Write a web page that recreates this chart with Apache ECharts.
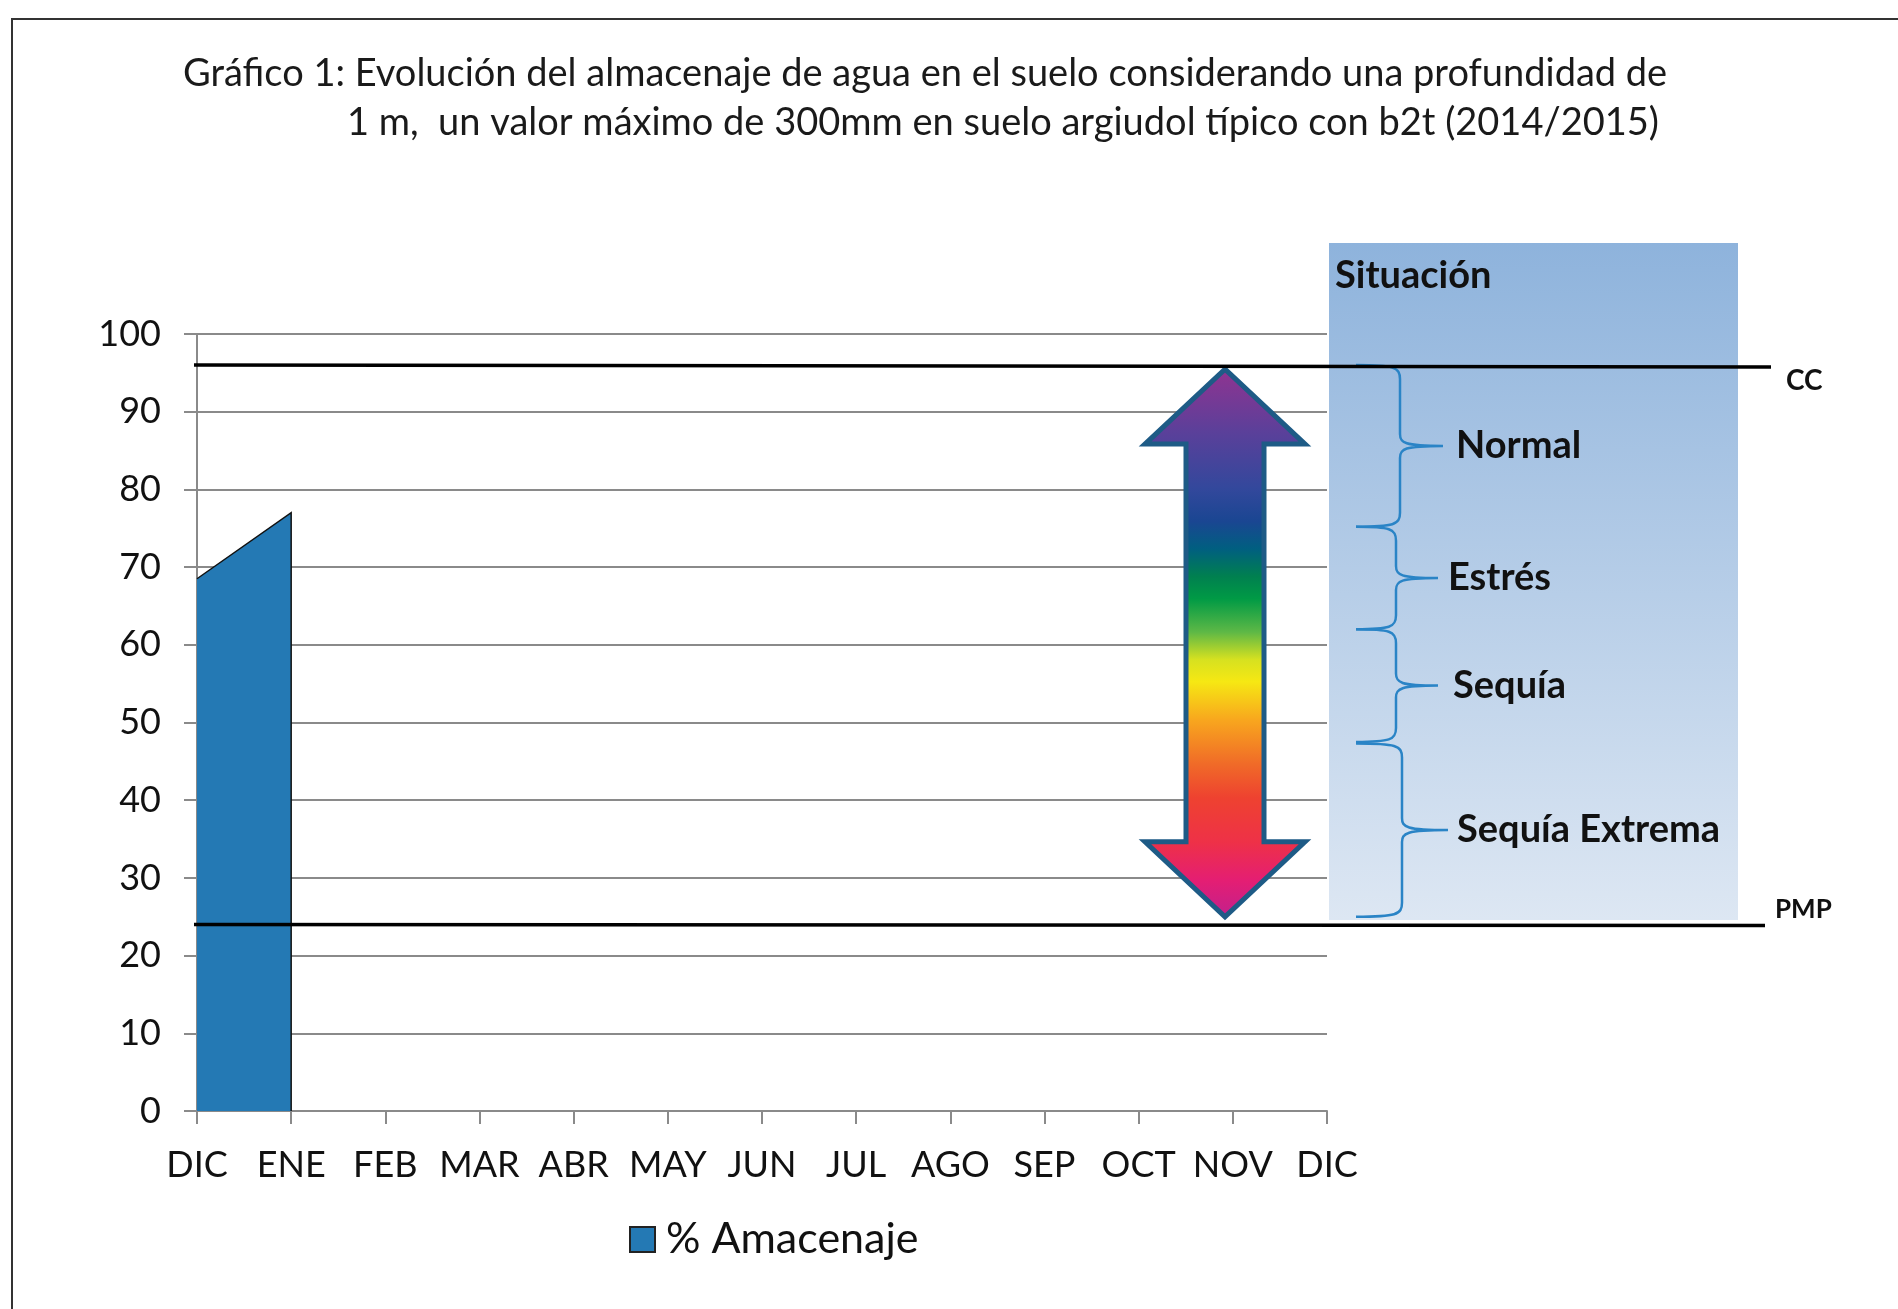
<!DOCTYPE html>
<html>
<head>
<meta charset="utf-8">
<script src="https://cdn.jsdelivr.net/npm/echarts@6/dist/echarts.min.js"></script>
<style>
  html, body { margin: 0; padding: 0; background: #fff; }
  #chart { width: 1898px; height: 1309px; }
</style>
</head>
<body>
<div id="chart"></div>
<script>
// datos
const meses = ['DIC', 'ENE', 'FEB', 'MAR', 'ABR', 'MAY', 'JUN', 'JUL', 'AGO', 'SEP', 'OCT', 'NOV', 'DIC'];
const amacenaje = [68.5, 77];
const nivelCC = 96;
const nivelPMP = 24;
const situaciones = ['Normal', 'Estrés', 'Sequía', 'Sequía Extrema'];
// limites de cada llave (de arriba hacia abajo)
const corteSup = [96, 75.2, 62, 47.3];
const corteInf = [75.2, 62, 47.5, 25];

const font = 'Lato, "Open Sans", sans-serif';
const gris = '#8a8a8a';
const azul = '#2479b4';

// x de la llave: lomo, punta, etiqueta
const llaveX = [[1400, 1443, 1456], [1396, 1438, 1448], [1396, 1438, 1453], [1402, 1448, 1457]];

const chart = echarts.init(document.getElementById('chart'));

function renderArea(params, api) {
  const i = api.value(0);
  if (i >= amacenaje.length - 1) return null;
  const p0 = api.coord([i, amacenaje[i]]);
  const p1 = api.coord([i + 1, amacenaje[i + 1]]);
  const b0 = api.coord([i, 0]);
  const b1 = api.coord([i + 1, 0]);
  const last = i + 1 === amacenaje.length - 1;
  return {
    type: 'group',
    children: [
      { type: 'polygon', shape: { points: [p0, p1, b1, b0] }, style: { fill: azul } },
      { type: 'polyline', shape: { points: last ? [p0, p1, b1] : [p0, p1] },
        style: { fill: null, stroke: '#111', lineWidth: 1.5 } }
    ]
  };
}

function llave(yTop, yBot, s, xl, xt) {
  const ym = (yTop + yBot) / 2;
  return 'M' + xl + ' ' + yTop +
    ' C' + (s - 6) + ' ' + yTop + ' ' + s + ' ' + (yTop + 2) + ' ' + s + ' ' + (yTop + 14) +
    ' L' + s + ' ' + (ym - 12) +
    ' C' + s + ' ' + (ym - 3) + ' ' + (s + 4) + ' ' + ym + ' ' + xt + ' ' + ym +
    ' M' + xt + ' ' + ym +
    ' C' + (s + 4) + ' ' + ym + ' ' + s + ' ' + (ym + 3) + ' ' + s + ' ' + (ym + 12) +
    ' L' + s + ' ' + (yBot - 14) +
    ' C' + s + ' ' + (yBot - 2) + ' ' + (s - 6) + ' ' + yBot + ' ' + xl + ' ' + yBot;
}

function renderLlave(params, api) {
  const k = params.dataIndex;
  const yTop = api.coord([0, api.value(1)])[1];
  const yBot = api.coord([0, api.value(2)])[1];
  const [s, xt, xlab] = llaveX[k];
  return {
    type: 'group',
    children: [
      { type: 'path', shape: { pathData: llave(yTop, yBot, s, 1356, xt) },
        style: { fill: null, stroke: '#2a84c6', lineWidth: 2.5 } },
      { type: 'text', x: xlab, y: (yTop + yBot) / 2,
        style: { text: situaciones[k], fontFamily: font, fontSize: 38, fontWeight: 'bold',
                 fill: '#111', verticalAlign: 'middle' } }
    ]
  };
}

const option = {
  animation: false,
  backgroundColor: '#fff',
  title: [
    {
      text: 'Gráfico 1: Evolución del almacenaje de agua en el suelo considerando una profundidad de',
      left: 183, top: 55, padding: 0,
      textStyle: { fontFamily: font, fontSize: 38, fontWeight: 'normal', color: '#1a1a1a' }
    },
    {
      text: '1 m,  un valor máximo de 300mm en suelo argiudol típico con b2t (2014/2015)',
      left: 347, top: 104, padding: 0,
      textStyle: { fontFamily: font, fontSize: 38, fontWeight: 'normal', color: '#1a1a1a' }
    }
  ],
  legend: {
    data: ['% Amacenaje'],
    left: 624, top: 1213,
    icon: 'rect',
    itemWidth: 25, itemHeight: 25,
    textStyle: { fontFamily: font, fontSize: 43, color: '#111', padding: [0, 0, 0, 6] }
  },
  grid: { left: 197, right: 571, top: 334, bottom: 198 },
  xAxis: {
    type: 'category',
    data: meses,
    boundaryGap: false,
    axisLine: { lineStyle: { color: gris, width: 2 } },
    axisTick: { show: true, length: 13, lineStyle: { color: gris, width: 2 } },
    axisLabel: { interval: 0, margin: 36, fontFamily: font, fontSize: 36, color: '#111' },
    splitLine: { show: false }
  },
  yAxis: {
    type: 'value',
    min: 0, max: 100, interval: 10,
    axisLine: { show: true, lineStyle: { color: gris, width: 2 } },
    axisTick: { show: true, length: 13, lineStyle: { color: gris, width: 2 } },
    axisLabel: { margin: 36, fontFamily: font, fontSize: 36, color: '#111' },
    splitLine: { lineStyle: { color: gris, width: 2 } }
  },
  series: [
    {
      name: '% Amacenaje',
      type: 'custom',
      renderItem: renderArea,
      encode: { x: 0, y: 1 },
      itemStyle: { color: azul, borderColor: '#222', borderWidth: 1 },
      data: amacenaje.map((v, i) => [i, v]),
      z: 3
    },
    {
      name: 'situacion',
      type: 'custom',
      silent: true,
      renderItem: renderLlave,
      encode: { x: 0, y: [1, 2] },
      data: situaciones.map((s, k) => [0, corteSup[k], corteInf[k]]),
      z: 12
    }
  ]
};

chart.setOption(option);

const yPx = v => chart.convertToPixel({ yAxisIndex: 0 }, v);

const graphics = [];

// marco exterior
graphics.push({
  type: 'rect', z: 1, silent: true,
  shape: { x: 12, y: 19, width: 1900, height: 1300 },
  style: { fill: null, stroke: '#333', lineWidth: 2 }
});

// panel de situacion
graphics.push({
  type: 'rect', z: 1, silent: true,
  shape: { x: 1329, y: 243, width: 409, height: 677 },
  style: {
    fill: new echarts.graphic.LinearGradient(0, 0, 0, 1, [
      { offset: 0, color: '#8eb3dc' },
      { offset: 1, color: '#dde7f3' }
    ])
  }
});
graphics.push({
  type: 'text', z: 12, silent: true, x: 1335, y: 276,
  style: { text: 'Situación', fontFamily: font, fontSize: 38, fontWeight: 'bold', fill: '#111', verticalAlign: 'middle' }
});

// lineas CC y PMP
const yCC = yPx(nivelCC);
const yPMP = yPx(nivelPMP);
graphics.push({
  type: 'line', z: 20, silent: true,
  shape: { x1: 194, y1: yCC, x2: 1771, y2: yCC + 2 },
  style: { stroke: '#000', lineWidth: 3.5 }
});
graphics.push({
  type: 'line', z: 20, silent: true,
  shape: { x1: 194, y1: yPMP, x2: 1765, y2: yPMP + 1 },
  style: { stroke: '#000', lineWidth: 3.5 }
});
graphics.push({
  type: 'text', z: 20, silent: true, x: 1786, y: yCC + 16,
  style: { text: 'CC', fontFamily: font, fontSize: 28, fontWeight: 'bold', fill: '#111', verticalAlign: 'middle' }
});
graphics.push({
  type: 'text', z: 20, silent: true, x: 1775, y: yPMP - 15,
  style: { text: 'PMP', fontFamily: font, fontSize: 26, fontWeight: 'bold', fill: '#111', verticalAlign: 'middle' }
});

// flecha doble
const cx = 1225;
const tTop = yPx(corteSup[0]) + 4;
const tBot = yPx(corteInf[3]);
const cab = 75, hw = 80, sw = 39;
graphics.push({
  type: 'polygon', z: 15, silent: true,
  shape: {
    points: [
      [cx, tTop], [cx + hw, tTop + cab], [cx + sw, tTop + cab],
      [cx + sw, tBot - cab], [cx + hw, tBot - cab], [cx, tBot],
      [cx - hw, tBot - cab], [cx - sw, tBot - cab], [cx - sw, tTop + cab],
      [cx - hw, tTop + cab]
    ]
  },
  style: {
    fill: new echarts.graphic.LinearGradient(0, 0, 0, 1, [
      { offset: 0.00, color: '#923390' },
      { offset: 0.12, color: '#5a409a' },
      { offset: 0.22, color: '#33489c' },
      { offset: 0.28, color: '#1a4692' },
      { offset: 0.33, color: '#005f80' },
      { offset: 0.38, color: '#00804f' },
      { offset: 0.42, color: '#009a45' },
      { offset: 0.48, color: '#5db846' },
      { offset: 0.53, color: '#d6e120' },
      { offset: 0.57, color: '#f6e813' },
      { offset: 0.64, color: '#f8a61e' },
      { offset: 0.72, color: '#f06a28' },
      { offset: 0.78, color: '#ee4230' },
      { offset: 0.86, color: '#ee3147' },
      { offset: 0.93, color: '#e41e73' },
      { offset: 1.00, color: '#c0208e' }
    ]),
    stroke: '#1e5b86',
    lineWidth: 5,
    lineJoin: 'miter'
  }
});

chart.setOption({ graphic: graphics });
</script>
</body>
</html>
